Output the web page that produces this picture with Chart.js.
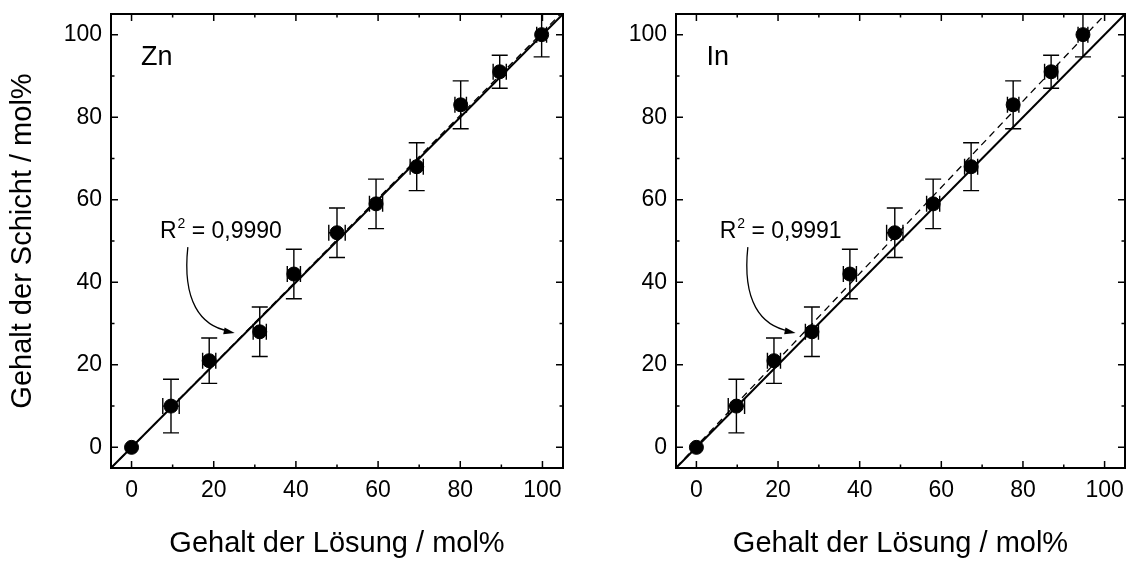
<!DOCTYPE html>
<html>
<head>
<meta charset="utf-8">
<script src="https://cdn.jsdelivr.net/npm/chart.js@4.4.1/dist/chart.umd.min.js"></script>
<style>
    html, body { margin: 0; padding: 0; background: #fff; }
    #wrap { position: relative; width: 1130px; height: 561px; }
    canvas { position: absolute; top: 0; }
</style>
</head>
<body>
<div id="wrap">
    <canvas id="znChart" width="565" height="561" style="left:0"></canvas>
    <canvas id="inChart" width="565" height="561" style="left:565px"></canvas>
</div>
<script>
// Axis ticks
const majorTicks = [0, 20, 40, 60, 80, 100];
const minorTicks = [10, 30, 50, 70, 90];
const axisMin = -5;
const axisMax = 105;

// Layer content (same for both panels)
const layerY = [0, 10, 21, 28, 42, 52, 59, 68, 83, 91, 100];
const layerYErr = [0, 6.5, 5.5, 6, 6, 6, 6, 5.8, 5.8, 4, 5.4];

// Zn panel: solution content
const znX = [0, 9.6, 18.9, 31.2, 39.5, 50.0, 59.5, 69.4, 80.1, 89.6, 99.8];
const znXErr = [0, 2.0, 1.6, 1.6, 1.6, 2.0, 1.6, 1.6, 1.4, 1.6, 1.2];

// In panel: solution content
const inX = [0, 9.8, 19.0, 28.3, 37.6, 48.6, 58.0, 67.3, 77.6, 86.9, 94.7];
const inXErr = [0, 2.0, 1.6, 1.6, 1.6, 2.0, 1.6, 1.6, 1.4, 1.6, 1.2];

// Ideal line and fitted lines (end points)
const lineX = [-5, 105];
const idealY = [-5, 105];
const znFitY = [-5, 105.6];
const inFitY = [-4.9, 110.0];

const FONT = "'Liberation Sans', Arial, sans-serif";

const frameTicks = {
    id: 'frameTicks',
    afterDraw(chart) {
        const { ctx, chartArea: a, scales: { x, y } } = chart;
        ctx.save();
        ctx.strokeStyle = '#000';
        ctx.lineWidth = 1.5;
        ctx.beginPath();
        const mark = (vals, len) => {
            vals.forEach(v => {
                const px = x.getPixelForValue(v);
                ctx.moveTo(px, a.bottom); ctx.lineTo(px, a.bottom - len);
                ctx.moveTo(px, a.top); ctx.lineTo(px, a.top + len);
                const py = y.getPixelForValue(v);
                ctx.moveTo(a.left, py); ctx.lineTo(a.left + len, py);
                ctx.moveTo(a.right, py); ctx.lineTo(a.right - len, py);
            });
        };
        mark(majorTicks, 7);
        mark(minorTicks, 3.5);
        ctx.stroke();
        ctx.lineWidth = 2;
        ctx.strokeRect(a.left, a.top, a.right - a.left, a.bottom - a.top);
        ctx.restore();
    }
};

const errorBars = {
    id: 'errorBars',
    beforeDatasetsDraw(chart) {
        const { ctx, chartArea: a, scales: { x, y } } = chart;
        const ds = chart.data.datasets[0];
        const cap = 8;
        ctx.save();
        ctx.beginPath();
        ctx.rect(a.left, a.top, a.right - a.left, a.bottom - a.top);
        ctx.clip();
        ctx.strokeStyle = '#000';
        ctx.lineWidth = 1.4;
        ctx.beginPath();
        ds.data.forEach((p, i) => {
            const px = x.getPixelForValue(p.x);
            const py = y.getPixelForValue(p.y);
            const ey = ds.yErr[i], ex = ds.xErr[i];
            if (ey > 0) {
                const t = y.getPixelForValue(p.y + ey), b = y.getPixelForValue(p.y - ey);
                ctx.moveTo(px, t); ctx.lineTo(px, b);
                ctx.moveTo(px - cap, t); ctx.lineTo(px + cap, t);
                ctx.moveTo(px - cap, b); ctx.lineTo(px + cap, b);
            }
            if (ex > 0) {
                const l = x.getPixelForValue(p.x - ex), r = x.getPixelForValue(p.x + ex);
                ctx.moveTo(l, py); ctx.lineTo(r, py);
                ctx.moveTo(l, py - cap); ctx.lineTo(l, py + cap);
                ctx.moveTo(r, py - cap); ctx.lineTo(r, py + cap);
            }
        });
        ctx.stroke();
        ctx.restore();
    }
};

const notes = {
    id: 'notes',
    afterDraw(chart) {
        const { ctx, scales: { x, y } } = chart;
        const n = chart.options.plugins.notes;
        ctx.save();
        ctx.fillStyle = '#000';
        ctx.strokeStyle = '#000';
        ctx.textBaseline = 'alphabetic';
        ctx.textAlign = 'left';

        // panel label
        ctx.font = '27px ' + FONT;
        ctx.fillText(n.label, x.getPixelForValue(n.labelAt[0]), y.getPixelForValue(n.labelAt[1]));

        // R^2 text
        let tx = x.getPixelForValue(n.r2At[0]);
        const ty = y.getPixelForValue(n.r2At[1]);
        ctx.font = '23px ' + FONT;
        ctx.fillText('R', tx, ty);
        tx += ctx.measureText('R').width + 1;
        ctx.font = '14px ' + FONT;
        ctx.fillText('2', tx, ty - 10);
        tx += ctx.measureText('2').width;
        ctx.font = '23px ' + FONT;
        ctx.fillText(' = ' + n.r2, tx, ty);

        // curved arrow
        const pts = n.arrow.map(p => [x.getPixelForValue(p[0]), y.getPixelForValue(p[1])]);
        ctx.lineWidth = 1.3;
        ctx.beginPath();
        ctx.moveTo(pts[0][0], pts[0][1]);
        ctx.bezierCurveTo(pts[1][0], pts[1][1], pts[2][0], pts[2][1], pts[3][0] - 6, pts[3][1] - 2);
        ctx.stroke();
        const ang = Math.atan2(pts[3][1] - pts[2][1], pts[3][0] - pts[2][0]);
        const hl = 11, hw = 3.5;
        ctx.beginPath();
        ctx.moveTo(pts[3][0], pts[3][1]);
        ctx.lineTo(pts[3][0] - hl * Math.cos(ang) + hw * Math.sin(ang), pts[3][1] - hl * Math.sin(ang) - hw * Math.cos(ang));
        ctx.lineTo(pts[3][0] - hl * Math.cos(ang) - hw * Math.sin(ang), pts[3][1] - hl * Math.sin(ang) + hw * Math.cos(ang));
        ctx.closePath();
        ctx.fill();
        ctx.restore();
    }
};

function pairs(xs, ys) {
    return xs.map((v, i) => ({ x: v, y: ys[i] }));
}

// drop the label overflow padding chart.js adds, the frame is fixed
function noPadding(s) {
    s.paddingTop = 0;
    s.paddingBottom = 0;
    s.paddingLeft = 0;
    s.paddingRight = 0;
}

function makeChart(id, xs, xErr, fitY, notesCfg, showYTitle, yWidth, rightPad) {
    const ctx = document.getElementById(id).getContext('2d');
    return new Chart(ctx, {
        type: 'scatter',
        data: {
            datasets: [{
                data: pairs(xs, layerY),
                xErr: xErr,
                yErr: layerYErr,
                backgroundColor: '#000',
                borderColor: '#000',
                pointRadius: 7,
                pointHoverRadius: 7,
                order: 0
            }, {
                data: pairs(lineX, idealY),
                showLine: true,
                borderColor: '#000',
                borderWidth: 2,
                pointRadius: 0,
                order: 1
            }, {
                data: pairs(lineX, fitY),
                showLine: true,
                borderColor: '#000',
                borderWidth: 1.3,
                borderDash: [7, 5],
                pointRadius: 0,
                order: 2
            }]
        },
        options: {
            responsive: false,
            animation: false,
            events: [],
            layout: {
                autoPadding: false,
                padding: { top: 14, right: rightPad, left: 0, bottom: 0 }
            },
            plugins: {
                legend: { display: false },
                tooltip: { enabled: false },
                notes: notesCfg
            },
            scales: {
                x: {
                    type: 'linear',
                    min: axisMin,
                    max: axisMax,
                    afterBuildTicks: s => { s.ticks = majorTicks.map(v => ({ value: v })); },
                    afterFit: s => { s.height = 93; noPadding(s); },
                    grid: { display: false, drawTicks: false },
                    border: { display: false },
                    ticks: { color: '#000', padding: 9, font: { size: 23, family: FONT } },
                    title: {
                        display: true,
                        text: 'Gehalt der Lösung / mol%',
                        color: '#000',
                        padding: { top: 0, bottom: 0 },
                        font: { size: 29, family: FONT }
                    }
                },
                y: {
                    type: 'linear',
                    min: axisMin,
                    max: axisMax,
                    afterBuildTicks: s => { s.ticks = majorTicks.map(v => ({ value: v })); },
                    afterFit: s => { s.width = yWidth; noPadding(s); },
                    grid: { display: false, drawTicks: false },
                    border: { display: false },
                    ticks: { color: '#000', padding: 9, font: { size: 23, family: FONT } },
                    title: {
                        display: showYTitle,
                        text: 'Gehalt der Schicht / mol%',
                        color: '#000',
                        padding: { top: 6, bottom: 0 },
                        font: { size: 29, family: FONT }
                    }
                }
            }
        },
        plugins: [errorBars, frameTicks, notes]
    });
}

makeChart('znChart', znX, znXErr, znFitY, {
    label: 'Zn',
    labelAt: [2.3, 92.6],
    r2: '0,9990',
    r2At: [6.9, 50.7],
    arrow: [[13.7, 48.5], [12.3, 35.5], [16.8, 29.4], [25.1, 27.7]]
}, true, 111, 2);

makeChart('inChart', inX, inXErr, inFitY, {
    label: 'In',
    labelAt: [2.5, 92.6],
    r2: '0,9991',
    r2At: [5.7, 50.7],
    arrow: [[12.6, 48.5], [11.2, 35.5], [15.7, 29.4], [24.3, 27.7]]
}, false, 111, 5);
</script>
</body>
</html>
